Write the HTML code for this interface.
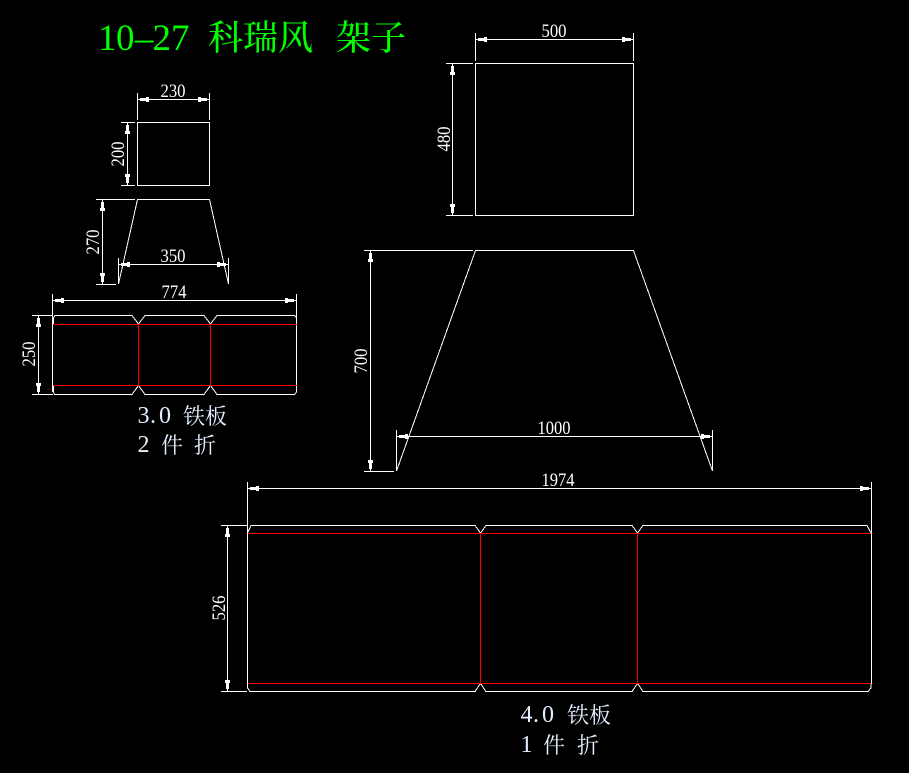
<!DOCTYPE html>
<html><head><meta charset="utf-8"><style>
html,body{margin:0;padding:0;background:#000;width:909px;height:773px;overflow:hidden}
svg{display:block}
.l{stroke:#fff;stroke-width:1;fill:none;shape-rendering:crispEdges}
.r{stroke:#f00;stroke-width:1;fill:none;shape-rendering:crispEdges}
.d{font-family:"Liberation Serif",serif;font-size:19px;fill:#fff;text-anchor:middle;font-weight:normal}
.n{font-family:"Liberation Serif",serif;font-size:24px;fill:#e4f0ff}
.c{font-family:"Liberation Serif","Noto Serif CJK SC",serif;font-size:22px;fill:#e4f0ff}
.tn{font-family:"Liberation Serif",serif;font-size:37px;fill:#0f0}
.tc{font-family:"Liberation Serif","Noto Serif CJK SC",serif;font-size:35px;fill:#0f0;font-weight:500}
</style></head><body>
<svg width="909" height="773" viewBox="0 0 909 773" xmlns="http://www.w3.org/2000/svg">
<defs><path id="a" d="M2.5 -1.5H8.5V-2.5H11.5V2.5H8.5V1.5H2.5Z" fill="#fff" shape-rendering="crispEdges"/></defs>

<text class="tn" x="98 116 135 152.5 171" y="50">10–27</text>
<text class="tc" x="208" y="50">科瑞风</text>
<text class="tc" x="336" y="50">架子</text>

<!-- small top rect -->
<path class="l" d="M137.5 122.5H209.5V185.5H137.5Z"/>
<path class="l" d="M137.5 93V120M209.5 93V120M138 99.5H209"/>
<use href="#a" transform="translate(137.5 99.5)"/><use href="#a" transform="translate(209.5 99.5) rotate(180)"/>
<text class="d" x="173" y="97" textLength="25" lengthAdjust="spacingAndGlyphs">230</text>
<path class="l" d="M121 122.5H135M121 185.5H135M127.5 123V185"/>
<use href="#a" transform="translate(127.5 122.5) rotate(90)"/><use href="#a" transform="translate(127.5 185.5) rotate(-90)"/>
<text class="d" transform="translate(124 154) rotate(-90)" textLength="25" lengthAdjust="spacingAndGlyphs">200</text>

<!-- small trapezoid -->
<path class="l" d="M118.5 284L137.5 199.5H209.5L228.5 284" shape-rendering="crispEdges"/>
<path class="l" d="M96 199.5H135M96 284.5H116M102.5 200V284"/>
<use href="#a" transform="translate(102.5 199.5) rotate(90)"/><use href="#a" transform="translate(102.5 284.5) rotate(-90)"/>
<text class="d" transform="translate(99 242) rotate(-90)" textLength="25" lengthAdjust="spacingAndGlyphs">270</text>
<path class="l" d="M118.5 258V284M228.5 258V284M119 264.5H228"/>
<use href="#a" transform="translate(118.5 264.5)"/><use href="#a" transform="translate(228.5 264.5) rotate(180)"/>
<text class="d" x="173" y="262" textLength="25" lengthAdjust="spacingAndGlyphs">350</text>

<!-- small panel -->
<path class="l" d="M52.5 294V318M296.5 294V318M53 300.5H296"/>
<use href="#a" transform="translate(52.5 300.5)"/><use href="#a" transform="translate(296.5 300.5) rotate(180)"/>
<text class="d" x="174" y="298" textLength="25" lengthAdjust="spacingAndGlyphs">774</text>
<path class="l" d="M32 315.5H53M32 394.5H53M38.5 316V394"/>
<use href="#a" transform="translate(38.5 315.5) rotate(90)"/><use href="#a" transform="translate(38.5 394.5) rotate(-90)"/>
<text class="d" transform="translate(35 354) rotate(-90)" textLength="25" lengthAdjust="spacingAndGlyphs">250</text>
<path class="l" d="M52.5 318V392M296.5 318V392"/>
<path class="l" d="M53.5 324V318L55 315.5H132L138.5 324L145 315.5H204L210.5 324L217 315.5H294.5L296.5 318V324"/>
<path class="l" d="M53.5 385V392L54.5 394.5H132L138.5 385.5L145 394.5H204L210.5 385.5L217 394.5H294.5L296.5 392V385"/>
<path class="r" d="M53 324.5H297M53 385.5H297M138.5 324V386M210.5 324V386"/>
<text class="n" x="137.500 150 159" y="423">3.0</text>
<text class="c" x="183" y="424">铁板</text>
<text class="n" x="137.500" y="452">2</text>
<text class="c" x="161" y="453">件</text>
<text class="c" x="194" y="453">折</text>

<!-- right rect -->
<path class="l" d="M475.5 63.5H633.5V215.5H475.5Z"/>
<path class="l" d="M475.5 33V61M633.5 33V61M476 39.5H633"/>
<use href="#a" transform="translate(475.5 39.5)"/><use href="#a" transform="translate(633.5 39.5) rotate(180)"/>
<text class="d" x="554" y="37" textLength="25" lengthAdjust="spacingAndGlyphs">500</text>
<path class="l" d="M446 63.5H473M446 215.5H473M452.5 64V215"/>
<use href="#a" transform="translate(452.5 63.5) rotate(90)"/><use href="#a" transform="translate(452.5 215.5) rotate(-90)"/>
<text class="d" transform="translate(450 139) rotate(-90)" textLength="25" lengthAdjust="spacingAndGlyphs">480</text>

<!-- big trapezoid -->
<path class="l" d="M396.5 471L475.5 250.5H633.5L712.5 471"/>
<path class="l" d="M364 250.5H473M364 471.5H394M370.5 251V471"/>
<use href="#a" transform="translate(370.5 250.5) rotate(90)"/><use href="#a" transform="translate(370.5 471.5) rotate(-90)"/>
<text class="d" transform="translate(367 361) rotate(-90)" textLength="25" lengthAdjust="spacingAndGlyphs">700</text>
<path class="l" d="M396.5 430V471M712.5 430V471M397 436.5H712"/>
<use href="#a" transform="translate(396.5 436.5)"/><use href="#a" transform="translate(712.5 436.5) rotate(180)"/>
<text class="d" x="554" y="434" textLength="33" lengthAdjust="spacingAndGlyphs">1000</text>

<!-- big panel -->
<path class="l" d="M247.5 482V533M871.5 482V533M248 488.5H871"/>
<use href="#a" transform="translate(247.5 488.5)"/><use href="#a" transform="translate(871.5 488.5) rotate(180)"/>
<text class="d" x="558" y="486" textLength="33" lengthAdjust="spacingAndGlyphs">1974</text>
<path class="l" d="M221 525.5H247M221 691.5H247M227.5 526V691"/>
<use href="#a" transform="translate(227.5 525.5) rotate(90)"/><use href="#a" transform="translate(227.5 691.5) rotate(-90)"/>
<text class="d" transform="translate(225 608) rotate(-90)" textLength="25" lengthAdjust="spacingAndGlyphs">526</text>
<path class="l" d="M247.5 533L251 525.5H475L480.5 533L486 525.5H632L637.5 533L643 525.5H867L871 533"/>
<path class="l" d="M247.5 684V688L250 691.5H475L480.5 683.5L486 691.5H632L637.5 683.5L643 691.5H868L871 688V684"/>
<path class="l" d="M247.5 533V684M871.5 533V684"/>
<path class="r" d="M248 533.5H871M248 683.5H871M480.5 533V684M637.5 533V684"/>
<text class="n" x="520.500 533 542" y="722">4.0</text>
<text class="c" x="567" y="723">铁板</text>
<text class="n" x="520.500" y="752">1</text>
<text class="c" x="543" y="753">件</text>
<text class="c" x="577" y="753">折</text>
</svg>
</body></html>
